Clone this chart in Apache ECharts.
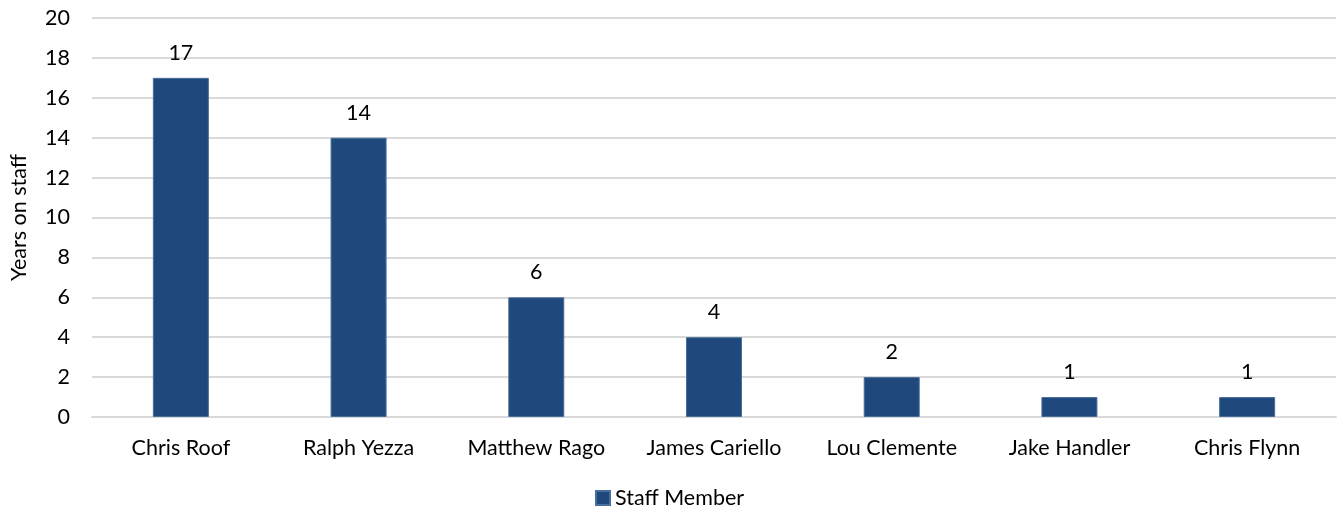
<!DOCTYPE html>
<html><head><meta charset="utf-8">
<script src="https://cdn.jsdelivr.net/npm/echarts@6/dist/echarts.min.js"></script>
<style>html,body{margin:0;padding:0;background:#fff}#c{width:1339px;height:513px}</style>
</head><body><div id="c"></div>
<script>
const categories = ["Chris Roof","Ralph Yezza","Matthew Rago","James Cariello","Lou Clemente","Jake Handler","Chris Flynn"];
const values = [17,14,6,4,2,1,1];
const seriesName = "Staff Member";
const yAxisName = "Years on staff";
const font = "Lato, 'Open Sans', sans-serif";
const fs = 21.5;
const chart = echarts.init(document.getElementById('c'), null, {renderer:'canvas'});
chart.setOption({
  animation:false,
  textStyle:{fontFamily:font},
  grid:{left:91,right:3,top:18,bottom:96,containLabel:false},
  legend:{top:487,left:595,itemWidth:14,itemHeight:14,itemGap:5,icon:'rect',padding:0,
    textStyle:{fontSize:fs,color:'#000',fontFamily:font},data:[seriesName]},
  xAxis:{type:'category',data:categories,
    axisLine:{show:true,lineStyle:{color:'#d9d9d9',width:2}},axisTick:{show:false},
    axisLabel:{fontSize:fs,color:'#000',margin:20,interval:0,fontFamily:font}},
  yAxis:{type:'value',min:0,max:20,interval:2,name:yAxisName,nameLocation:'middle',nameGap:62,
    nameTextStyle:{fontSize:fs,color:'#000',fontFamily:font},
    axisLine:{show:false},axisTick:{show:false},
    axisLabel:{fontSize:fs,color:'#000',margin:22,fontFamily:font},
    splitLine:{lineStyle:{color:'#d9d9d9',width:2}}},
  series:[{name:seriesName,type:'bar',data:values,barWidth:56,
    itemStyle:{color:'#1F497D',borderColor:'#4a6e9a',borderWidth:1},
    label:{show:true,position:'top',distance:14,fontSize:fs,color:'#000',fontFamily:font}}]
});
</script></body></html>
